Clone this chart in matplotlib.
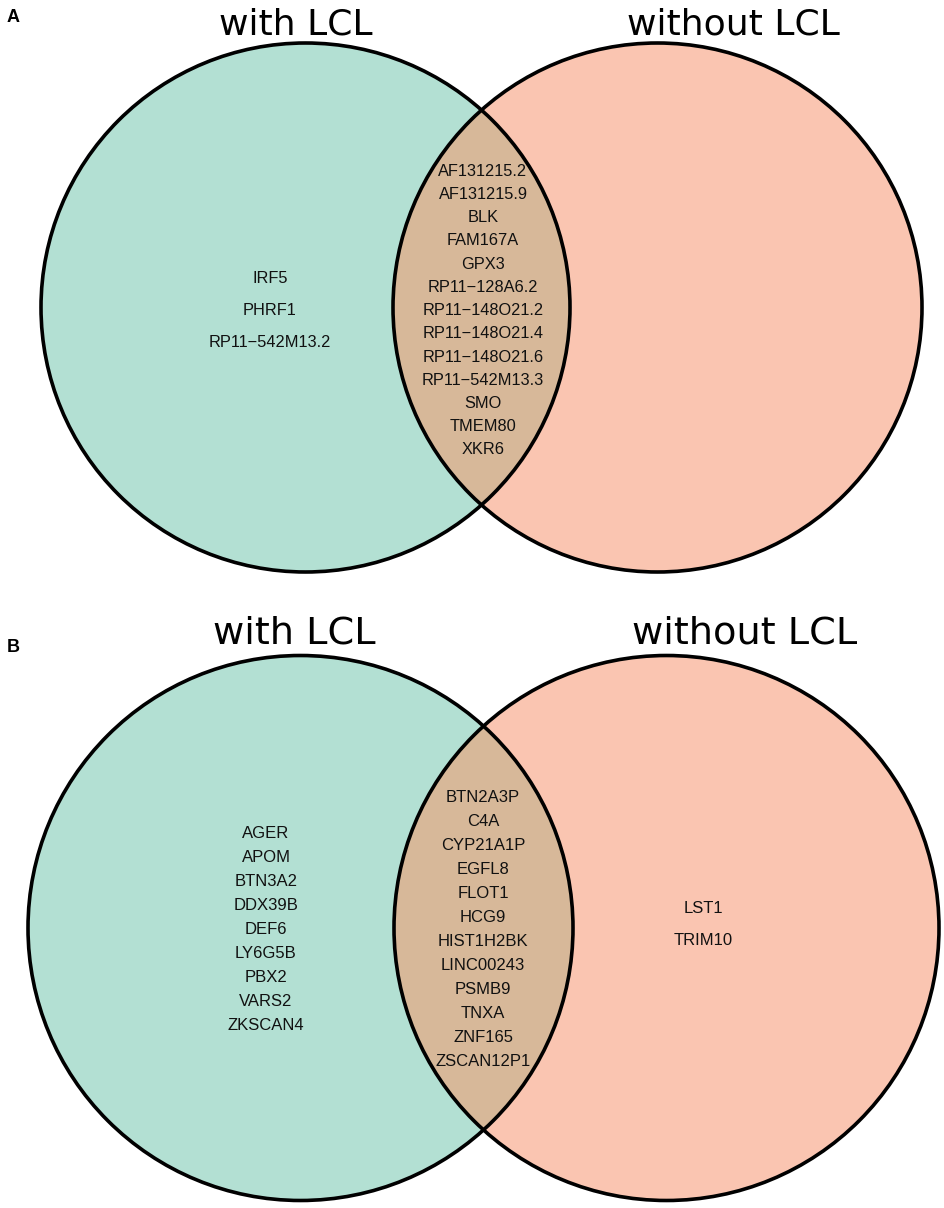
import matplotlib
matplotlib.use("Agg")
import matplotlib.pyplot as plt
from matplotlib.patches import Circle

# panel A: genes per region
a_left = ["IRF5", "PHRF1", "RP11\u2212542M13.2"]
a_both = ["AF131215.2", "AF131215.9", "BLK", "FAM167A", "GPX3",
          "RP11\u2212128A6.2", "RP11\u2212148O21.2", "RP11\u2212148O21.4",
          "RP11\u2212148O21.6", "RP11\u2212542M13.3", "SMO", "TMEM80", "XKR6"]
a_right = []

# panel B: genes per region
b_left = ["AGER", "APOM", "BTN3A2", "DDX39B", "DEF6", "LY6G5B", "PBX2",
          "VARS2", "ZKSCAN4"]
b_both = ["BTN2A3P", "C4A", "CYP21A1P", "EGFL8", "FLOT1", "HCG9",
          "HIST1H2BK", "LINC00243", "PSMB9", "TNXA", "ZNF165", "ZSCAN12P1"]
b_right = ["LST1", "TRIM10"]

set_names = ["with LCL", "without LCL"]

col_left = "#b3e0d3"
col_right = "#fac5b1"
col_both = "#d7b899"

fig = plt.figure(figsize=(9.45, 12.08), dpi=100)
ax = fig.add_axes([0, 0, 1, 1])
ax.set_xlim(0, 945)
ax.set_ylim(1208, 0)
ax.set_aspect("equal")
ax.axis("off")


def venn(cx1, cx2, cy, r, left, both, right, fs, lists, title_y, title_x, title_fs):
    c1 = Circle((cx1, cy), r, facecolor=col_left, edgecolor="none", zorder=1)
    c2 = Circle((cx2, cy), r, facecolor=col_right, edgecolor="none", zorder=1)
    ax.add_patch(c1)
    ax.add_patch(c2)
    # overlap: right circle recoloured, clipped by the left one
    lens = Circle((cx2, cy), r, facecolor=col_both, edgecolor="none", zorder=2)
    ax.add_patch(lens)
    lens.set_clip_path(c1)
    for cx in (cx1, cx2):
        ax.add_patch(Circle((cx, cy), r, fill=False, edgecolor="black",
                            lw=2.6, zorder=3))
    for genes, (x, y0, dy) in zip([left, both, right], lists):
        for i, g in enumerate(genes):
            ax.text(x, y0 + i * dy, g, ha="center", va="center", fontsize=fs,
                    family="Liberation Sans", color="#111111", zorder=4)
    for name, tx in zip(set_names, title_x):
        ax.text(tx, title_y, name, ha="center", va="baseline",
                fontsize=title_fs, family="DejaVu Sans", zorder=4)


venn(305.5, 657.5, 307.5, 264.5, a_left, a_both, a_right, 11.8,
     [(270, 278, 32), (483, 171, 23.25), (700, 300, 32)],
     34, (296, 733), 26)
venn(300.5, 666.5, 928, 272.5, b_left, b_both, b_right, 12,
     [(266, 833, 24.1), (483, 798, 24), (703, 909, 32)],
     643, (294, 745), 27.5)

ax.text(13, 17, "A", ha="center", va="center", fontsize=13,
        fontweight="bold", family="Liberation Sans")
ax.text(13, 647, "B", ha="center", va="center", fontsize=13,
        fontweight="bold", family="Liberation Sans")

fig.savefig("out.png", dpi=100)
